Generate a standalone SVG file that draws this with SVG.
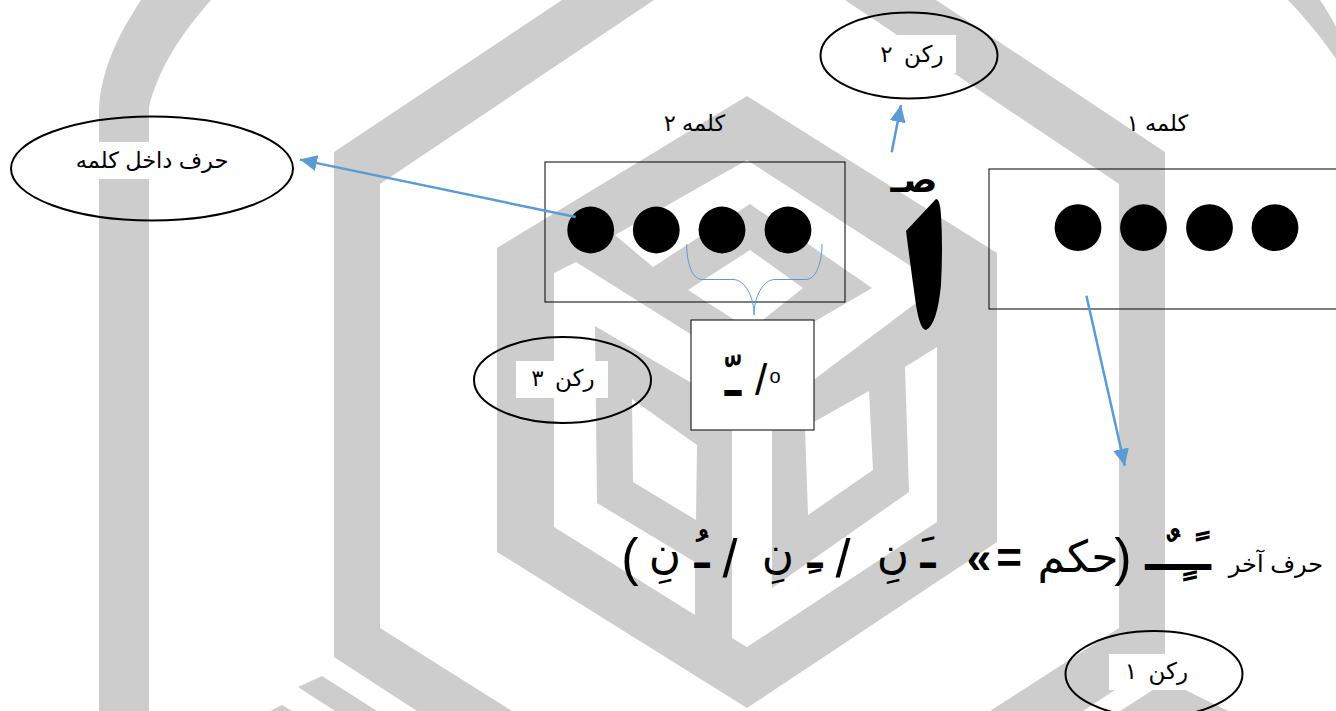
<svg xmlns="http://www.w3.org/2000/svg" width="1336" height="711" viewBox="0 0 1336 711">
<style>
.wm{fill:#cdcdcd}
.wh{fill:#fff}
.box{fill:none;stroke:#000;stroke-width:1}
.oval{fill:none;stroke:#000;stroke-width:2}
.dot{fill:#000}
.t{font-family:"Liberation Sans","DejaVu Sans",sans-serif;fill:#000;direction:rtl;text-anchor:middle}
.lbl{font-size:22.5px}
.rk{font-size:23px;word-spacing:5px}
.big{font-size:44px}
.b{font-weight:bold}
.par{font-size:52px}
.sl{font-size:54px}
.conn{fill:none;stroke:#5b9bd5;stroke-width:2.5}
.brace{fill:none;stroke:#5b9bd5;stroke-width:1}
</style>
<defs>
<marker id="ah" markerUnits="userSpaceOnUse" markerWidth="18" markerHeight="16" refX="17" refY="8" orient="auto"><path d="M0,0L17,8L0,16Z" fill="#5b9bd5"/></marker>
<clipPath id="alifclip"><path d="M906,231L936,199Q940,199 941,215Q943,245 941,285Q937,325 926,330Q920,330 916,305Q911,270 906,231Z"/></clipPath>
</defs>
<rect width="1336" height="711" fill="#fff"/>
<g id="watermark">
<path class="wm" d="M99,711V109C101,70 118,35 141,0H211C180,35 158,70 149,107V711Z"/>
<path class="wm" d="M1288,0C1305,18 1322,38 1336,59V27C1331,17 1326,9 1320,0Z"/>
<path class="wm" d="M334,152L562,0H654L380,184V628L512,711H417L334,657Z"/>
<path class="wm" d="M845,0H936L1165,152V657L1083,711H990L1119,628V184Z"/>
<path class="wm" d="M1120,711L1167,681L1228,711Z"/>
<path class="wm" d="M298,687L322,676L377,711H335Z"/>
<path class="wm" d="M270,711L282,705L292,711Z"/>
<path class="wm" d="M497,248L747,96L997,253V542L747,708L497,552Z"/>
<path class="wh" d="M747,160L615,235L653,267L750,204L872,288L800,330V390L940,285Z"/>
<path class="wh" d="M688,290L750,250L803,288L750,330Z"/>
<path class="wh" d="M554,273L576,262L700,340V388L595,326L597,503L695,562V615L554,527Z"/>
<path class="wh" d="M632,399L697,445L696,520L633,482Z"/>
<path class="wh" d="M805,427L869,391L873,470L808,515Z"/>
<path class="wh" d="M732,420H772V588L909,492L905,367L937,347V522L747,647L732,638Z"/>
</g>
<g id="word2">
<rect class="box" x="545" y="162" width="300" height="140"/>
<circle class="dot" cx="590.7" cy="230" r="23.4"/><circle class="dot" cx="656.3" cy="230" r="23.4"/><circle class="dot" cx="722" cy="230" r="23.4"/><circle class="dot" cx="788" cy="230" r="23.4"/>
<text class="t lbl" x="694.5" y="131">کلمه ۲</text>
</g>
<g id="word1">
<rect class="box" x="989" y="169" width="360" height="140"/>
<circle class="dot" cx="1078" cy="227.7" r="23.4"/><circle class="dot" cx="1143.5" cy="227.7" r="23.4"/><circle class="dot" cx="1209.5" cy="227.7" r="23.4"/><circle class="dot" cx="1275" cy="227.7" r="23.4"/>
<text class="t lbl" x="1157.5" y="131">کلمه ۱</text>
</g>
<g id="node-inner">
<rect class="wh" x="74" y="142" width="157" height="37"/>
<ellipse class="oval" cx="152" cy="168.5" rx="141" ry="52"/>
<text class="t lbl" x="152" y="168">حرف داخل کلمه</text>
</g>
<g id="node-r3">
<rect class="wh" x="516" y="361" width="92" height="37"/>
<ellipse class="oval" cx="562.5" cy="380" rx="88.5" ry="43"/>
<text class="t rk" x="563" y="386">رکن ۳</text>
</g>
<g id="node-r2">
<rect class="wh" x="864" y="35" width="92" height="38"/>
<ellipse class="oval" cx="909" cy="55.5" rx="88.5" ry="43"/>
<text class="t rk" x="912" y="62">رکن ۲</text>
</g>
<g id="node-r1">
<rect class="wh" x="1109" y="654" width="81" height="36"/>
<ellipse class="oval" cx="1154" cy="674" rx="88.5" ry="43"/>
<text class="t rk" x="1156.5" y="679">رکن ۱</text>
</g>
<g id="node-box">
<rect x="691" y="320" width="123" height="110" fill="#fff" stroke="#000" stroke-width="1"/>
<text class="t" x="733" y="396" style="font-size:48px;font-weight:bold">ـّ</text>
<text class="t" x="761" y="395" style="font-size:44px">/</text>
<text class="t" x="775" y="383" style="font-size:20px">o</text>
</g>
<g id="node-sad">
<text class="t" style="font-size:36px;font-weight:bold" x="914" y="192">صـ</text>
<g clip-path="url(#alifclip)"><text class="t" style="font-size:190px;font-weight:bold" transform="translate(924,330) scale(2.5,1)" x="0" y="0">ا</text></g>
</g>
<g id="rule">
<text class="t" style="font-size:24px" x="1276" y="572">حرف آخر</text>
<text class="t b" style="font-size:48px" x="1178" y="570">ـًـٍـٌـ</text>
<text class="t big" y="568"><tspan x="1123" y="575" class="par">(</tspan><tspan x="1078" y="572">حکم</tspan><tspan x="1009" y="573" class="b">=</tspan><tspan x="979" y="573" class="b">»</tspan><tspan x="928" y="568" class="b">ـَ</tspan><tspan x="893" y="568">نِ</tspan><tspan x="843" y="577" class="sl">/</tspan><tspan x="815" y="568" class="b">ـِ</tspan><tspan x="778" y="568">نِ</tspan><tspan x="730" y="577" class="sl">/</tspan><tspan x="702" y="568" class="b">ـُ</tspan><tspan x="665" y="568">نِ</tspan><tspan x="630" y="575" class="par">)</tspan></text>
</g>
<g id="connectors">
<path class="conn" marker-end="url(#ah)" d="M575.7,217L300,159.6"/>
<path class="conn" marker-end="url(#ah)" d="M891.7,152.3L901,105"/>
<path class="conn" marker-end="url(#ah)" d="M1086.4,295.7L1124.8,465.8"/>
<path class="brace" d="M686.7,244C686.7,265 693,279.5 702,279.5H733C745,279.5 754,297 754,315C754,297 763,279.5 775,279.5H806C815,279.5 822,265 822,244"/>
</g>
</svg>
